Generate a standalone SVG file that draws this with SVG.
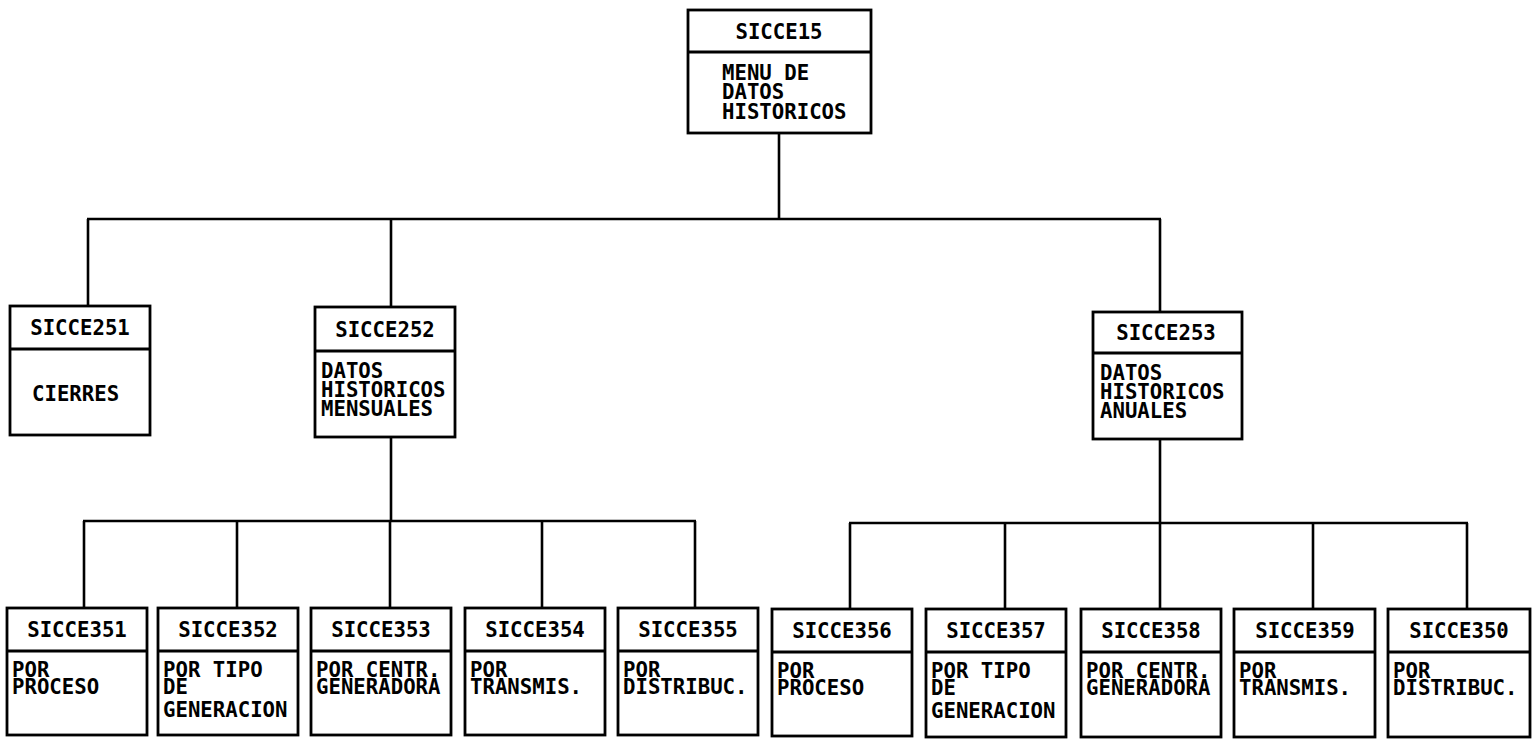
<svg xmlns="http://www.w3.org/2000/svg" width="1538" height="748" viewBox="0 0 1538 748">
<style>
rect.box{fill:#fff;stroke:#000;stroke-width:2.8}
line.div{stroke:#000;stroke-width:2.8}
#connectors line{stroke:#000;stroke-width:2.6}
text{font-family:"DejaVu Sans Mono","Liberation Mono",monospace;font-weight:bold;fill:#000;font-size:22px}
.h{text-anchor:middle}
</style>
<rect width="1538" height="748" fill="#fff"/>
<g id="connectors">
<line x1="779" y1="133" x2="779" y2="219"/>
<line x1="87" y1="219" x2="1161" y2="219"/>
<line x1="88" y1="219" x2="88" y2="306"/>
<line x1="391" y1="219" x2="391" y2="307"/>
<line x1="1160" y1="219" x2="1160" y2="312"/>
<line x1="391" y1="437" x2="391" y2="521"/>
<line x1="83" y1="521" x2="696" y2="521"/>
<line x1="84" y1="521" x2="84" y2="608"/>
<line x1="237" y1="521" x2="237" y2="608"/>
<line x1="390" y1="521" x2="390" y2="608"/>
<line x1="542" y1="521" x2="542" y2="608"/>
<line x1="695" y1="521" x2="695" y2="608"/>
<line x1="1160" y1="439" x2="1160" y2="523"/>
<line x1="849" y1="523" x2="1468" y2="523"/>
<line x1="850" y1="523" x2="850" y2="609"/>
<line x1="1005" y1="523" x2="1005" y2="609"/>
<line x1="1160" y1="523" x2="1160" y2="609"/>
<line x1="1313" y1="523" x2="1313" y2="609"/>
<line x1="1467" y1="523" x2="1467" y2="609"/>
</g>
<g id="n15">
<rect class="box" x="688" y="10" width="183" height="123"/>
<line class="div" x1="688" y1="52" x2="871" y2="52"/>
<text class="h" transform="translate(779,0) scale(0.94,1)" y="39">SICCE15</text>
<text transform="translate(722,0) scale(0.94,1)"><tspan x="0" y="80">MENU DE</tspan><tspan x="0" y="99">DATOS</tspan><tspan x="0" y="119">HISTORICOS</tspan></text>
</g>
<g id="n251">
<rect class="box" x="10" y="306" width="140" height="129"/>
<line class="div" x1="10" y1="349" x2="150" y2="349"/>
<text class="h" transform="translate(80,0) scale(0.94,1)" y="335.5">SICCE251</text>
<text transform="translate(32,0) scale(0.94,1)" y="401">CIERRES</text>
</g>
<g id="n252">
<rect class="box" x="315" y="307" width="140" height="130"/>
<line class="div" x1="315" y1="351" x2="455" y2="351"/>
<text class="h" transform="translate(385,0) scale(0.94,1)" y="337">SICCE252</text>
<text transform="translate(321,0) scale(0.94,1)"><tspan x="0" y="378">DATOS</tspan><tspan x="0" y="397">HISTORICOS</tspan><tspan x="0" y="416">MENSUALES</tspan></text>
</g>
<g id="n253">
<rect class="box" x="1093" y="312" width="149" height="127"/>
<line class="div" x1="1093" y1="353" x2="1242" y2="353"/>
<text class="h" transform="translate(1166,0) scale(0.94,1)" y="340.5">SICCE253</text>
<text transform="translate(1100,0) scale(0.94,1)"><tspan x="0" y="380">DATOS</tspan><tspan x="0" y="399">HISTORICOS</tspan><tspan x="0" y="418">ANUALES</tspan></text>
</g>
<g id="n351">
<rect class="box" x="7" y="608" width="140" height="127"/>
<line class="div" x1="7" y1="651" x2="147" y2="651"/>
<text class="h" transform="translate(77,0) scale(0.94,1)" y="637.5">SICCE351</text>
<text transform="translate(12,0) scale(0.94,1)"><tspan x="0" y="677">POR</tspan><tspan x="0" y="694">PROCESO</tspan></text>
</g>
<g id="n352">
<rect class="box" x="158" y="608" width="140" height="127"/>
<line class="div" x1="158" y1="651" x2="298" y2="651"/>
<text class="h" transform="translate(228,0) scale(0.94,1)" y="637.5">SICCE352</text>
<text transform="translate(163,0) scale(0.94,1)"><tspan x="0" y="677">POR TIPO</tspan><tspan x="0" y="694">DE</tspan><tspan x="0" y="717">GENERACION</tspan></text>
</g>
<g id="n353">
<rect class="box" x="311" y="608" width="140" height="127"/>
<line class="div" x1="311" y1="651" x2="451" y2="651"/>
<text class="h" transform="translate(381,0) scale(0.94,1)" y="637.5">SICCE353</text>
<text transform="translate(316,0) scale(0.94,1)"><tspan x="0" y="677">POR CENTR.</tspan><tspan x="0" y="694">GENERADORA</tspan></text>
</g>
<g id="n354">
<rect class="box" x="465" y="608" width="140" height="127"/>
<line class="div" x1="465" y1="651" x2="605" y2="651"/>
<text class="h" transform="translate(535,0) scale(0.94,1)" y="637.5">SICCE354</text>
<text transform="translate(470,0) scale(0.94,1)"><tspan x="0" y="677">POR</tspan><tspan x="0" y="694">TRANSMIS.</tspan></text>
</g>
<g id="n355">
<rect class="box" x="618" y="608" width="140" height="127"/>
<line class="div" x1="618" y1="651" x2="758" y2="651"/>
<text class="h" transform="translate(688,0) scale(0.94,1)" y="637.5">SICCE355</text>
<text transform="translate(623,0) scale(0.94,1)"><tspan x="0" y="677">POR</tspan><tspan x="0" y="694">DISTRIBUC.</tspan></text>
</g>
<g id="n356">
<rect class="box" x="772" y="609" width="140" height="127"/>
<line class="div" x1="772" y1="652" x2="912" y2="652"/>
<text class="h" transform="translate(842,0) scale(0.94,1)" y="638.5">SICCE356</text>
<text transform="translate(777,0) scale(0.94,1)"><tspan x="0" y="678">POR</tspan><tspan x="0" y="695">PROCESO</tspan></text>
</g>
<g id="n357">
<rect class="box" x="926" y="609" width="140" height="128"/>
<line class="div" x1="926" y1="652" x2="1066" y2="652"/>
<text class="h" transform="translate(996,0) scale(0.94,1)" y="638.5">SICCE357</text>
<text transform="translate(931,0) scale(0.94,1)"><tspan x="0" y="678">POR TIPO</tspan><tspan x="0" y="695">DE</tspan><tspan x="0" y="718">GENERACION</tspan></text>
</g>
<g id="n358">
<rect class="box" x="1081" y="609" width="140" height="128"/>
<line class="div" x1="1081" y1="652" x2="1221" y2="652"/>
<text class="h" transform="translate(1151,0) scale(0.94,1)" y="638.5">SICCE358</text>
<text transform="translate(1086,0) scale(0.94,1)"><tspan x="0" y="678">POR CENTR.</tspan><tspan x="0" y="695">GENERADORA</tspan></text>
</g>
<g id="n359">
<rect class="box" x="1234" y="609" width="141" height="128"/>
<line class="div" x1="1234" y1="652" x2="1375" y2="652"/>
<text class="h" transform="translate(1305,0) scale(0.94,1)" y="638.5">SICCE359</text>
<text transform="translate(1239,0) scale(0.94,1)"><tspan x="0" y="678">POR</tspan><tspan x="0" y="695">TRANSMIS.</tspan></text>
</g>
<g id="n350">
<rect class="box" x="1388" y="609" width="142" height="128"/>
<line class="div" x1="1388" y1="652" x2="1530" y2="652"/>
<text class="h" transform="translate(1459,0) scale(0.94,1)" y="638.5">SICCE350</text>
<text transform="translate(1393,0) scale(0.94,1)"><tspan x="0" y="678">POR</tspan><tspan x="0" y="695">DISTRIBUC.</tspan></text>
</g>
</svg>
